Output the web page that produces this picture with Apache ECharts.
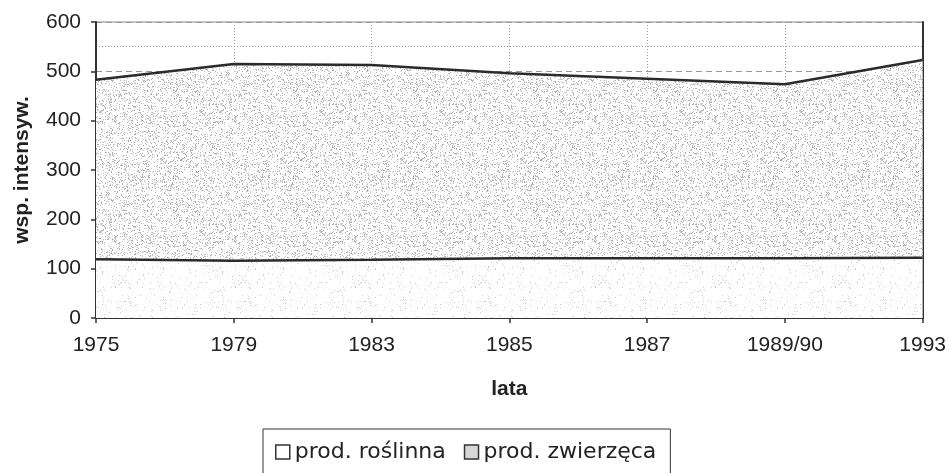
<!DOCTYPE html>
<html>
<head>
<meta charset="utf-8">
<script src="https://cdn.jsdelivr.net/npm/echarts@6/dist/echarts.min.js"></script>
<style>
html,body{margin:0;padding:0;background:#fff;}
#c{width:949px;height:473px;}
</style>
</head>
<body>
<div id="c"></div>
<script>
var categories = ['1975', '1979', '1983', '1985', '1987', '1989/90', '1993'];
var prodRoslinna = [119, 116, 118, 121, 121, 121, 122];
var prodZwierzeca = [364, 399, 395, 375, 364, 353, 401];
var yTicks = [0, 100, 200, 300, 400, 500, 600];

var FONT = '"Liberation Sans", Arial, sans-serif';

// speckled fill texture (deterministic, styling only)
function speckle(density, seed, lo, hi) {
  var c = document.createElement('canvas');
  c.width = 120; c.height = 120;
  var ctx = c.getContext('2d');
  ctx.fillStyle = '#ffffff';
  ctx.fillRect(0, 0, 120, 120);
  var s = seed;
  function rnd() { s = (s * 1103515245 + 12345) % 2147483648; return s / 2147483648; }
  for (var y = 0; y < 120; y++) {
    for (var x = 0; x < 120; x++) {
      if (rnd() < density) {
        var g = Math.round(lo + (hi - lo) * rnd());
        ctx.fillStyle = 'rgb(' + g + ',' + g + ',' + g + ')';
        ctx.fillRect(x, y, 1, 1);
      }
    }
  }
  return c;
}
var topTex = speckle(0.20, 7, 165, 215);
var botTex = speckle(0.035, 13, 190, 230);

var chart = echarts.init(document.getElementById('c'), null, {renderer: 'canvas'});

chart.setOption({
  animation: false,
  backgroundColor: '#fff',
  grid: {left: 96, right: 26, top: 22, bottom: 155, show: true, borderColor: '#888', borderWidth: 1, backgroundColor: 'transparent'},
  legend: {
    left: 263, top: 429,
    padding: [12, 14, 40, 12],
    borderColor: '#333', borderWidth: 1,
    itemWidth: 14, itemHeight: 14, itemGap: 18,
    icon: 'rect',
    textStyle: {fontFamily: '"DejaVu Sans", sans-serif', fontSize: 22, color: '#222', lineHeight: 22},
    data: [
      {name: 'prod. roślinna', itemStyle: {color: '#ffffff', borderColor: '#333', borderWidth: 1.5}},
      {name: 'prod. zwierzęca', itemStyle: {color: '#d6d6d6', borderColor: '#333', borderWidth: 1.5}}
    ]
  },
  xAxis: {
    type: 'category',
    data: categories,
    boundaryGap: false,
    name: 'lata',
    nameLocation: 'middle',
    nameGap: 61,
    nameTextStyle: {fontFamily: FONT, fontSize: 21, fontWeight: 'bold', color: '#222'},
    axisLine: {lineStyle: {color: '#333', width: 2}},
    axisTick: {show: true, length: 5, alignWithLabel: true, lineStyle: {color: '#333', width: 1.5}},
    axisLabel: {fontFamily: FONT, fontSize: 21, color: '#222', margin: 17, interval: 0},
    splitLine: {show: true, lineStyle: {color: '#999', type: [1, 2], width: 1}}
  },
  yAxis: [{
    type: 'value',
    min: yTicks[0], max: yTicks[yTicks.length - 1], interval: 100,
    name: 'wsp. intensyw.',
    nameLocation: 'middle',
    nameGap: 63,
    nameTextStyle: {fontFamily: FONT, fontSize: 21, fontWeight: 'bold', color: '#222'},
    axisLine: {show: true, lineStyle: {color: '#333', width: 2}},
    axisTick: {show: true, length: 5, lineStyle: {color: '#333', width: 1.5}},
    axisLabel: {fontFamily: FONT, fontSize: 21, color: '#222', margin: 15},
    splitLine: {show: true, lineStyle: {color: '#999', type: [6, 4], width: 1}},
    minorTick: {show: false, splitNumber: 2},
    minorSplitLine: {show: true, lineStyle: {color: '#999', type: [1, 2], width: 1}}
  }, {
    type: 'value',
    min: yTicks[0], max: yTicks[yTicks.length - 1], interval: 100,
    position: 'right',
    axisLine: {show: true, lineStyle: {color: '#333', width: 2}},
    axisTick: {show: false},
    axisLabel: {show: false},
    splitLine: {show: false}
  }],
  series: [{
    name: 'prod. roślinna',
    type: 'line',
    stack: 'total',
    data: prodRoslinna,
    showSymbol: false,
    itemStyle: {color: '#ffffff'},
    lineStyle: {color: '#2b2b2b', width: 2.5},
    areaStyle: {color: {image: botTex, repeat: 'repeat'}, opacity: 1}
  }, {
    name: 'prod. zwierzęca',
    type: 'line',
    stack: 'total',
    data: prodZwierzeca,
    showSymbol: false,
    itemStyle: {color: '#d6d6d6'},
    lineStyle: {color: '#2b2b2b', width: 2.5},
    areaStyle: {color: {image: topTex, repeat: 'repeat'}, opacity: 1}
  }]
});
</script>
</body>
</html>
